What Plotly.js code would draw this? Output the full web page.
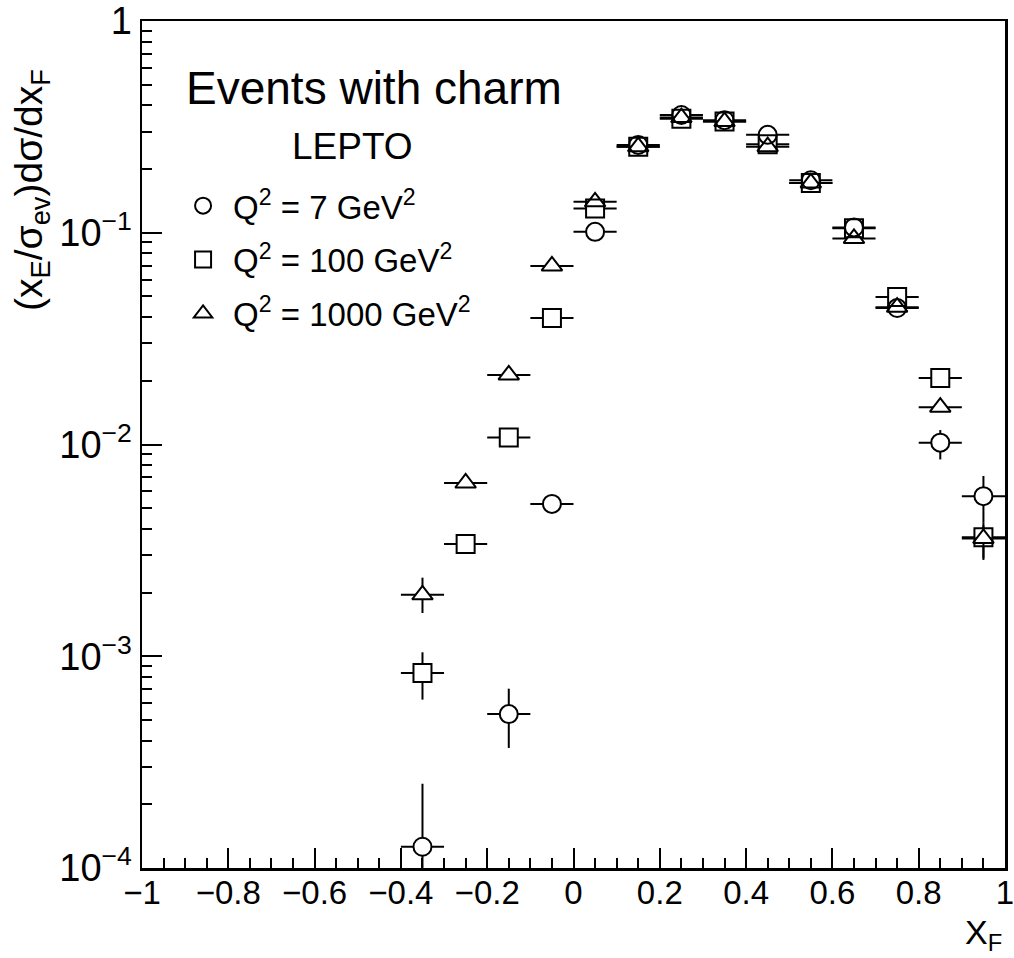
<!DOCTYPE html>
<html>
<head>
<meta charset="utf-8">
<script src="https://cdn.plot.ly/plotly-3.0.1.min.js"></script>
<style>html,body{margin:0;padding:0;background:#fff;}#chart{width:1014px;height:958px;}</style>
</head>
<body>
<div id="chart"></div>
<script>
// ---- data ----
const xQ7 = [-0.35, -0.15, -0.05, 0.05, 0.15, 0.25, 0.35, 0.45, 0.55, 0.65, 0.75, 0.85, 0.95];
const yQ7 = [1.26e-4, 5.33e-4, 5.24e-3, 0.101, 0.26, 0.36, 0.34, 0.29, 0.177, 0.106, 0.0441, 0.0102, 5.7e-3];
const errUpQ7 = [1.24e-4, 1.7e-4, 0, 0, 0, 0, 0, 0, 0, 0, 0, 0.0015, 1.4e-3];
const errDnQ7 = [1.2e-4, 1.64e-4, 0, 0, 0, 0, 0, 0, 0, 0, 0, 0.0017, 1.4e-3];

const xQ100 = [-0.35, -0.25, -0.15, -0.05, 0.05, 0.15, 0.25, 0.35, 0.45, 0.55, 0.65, 0.75, 0.85, 0.95];
const yQ100 = [8.34e-4, 3.39e-3, 0.0108, 0.0396, 0.130, 0.255, 0.345, 0.335, 0.262, 0.172, 0.105, 0.0497, 0.0206, 3.65e-3];
const errUpQ100 = [2.1e-4, 0, 0, 0, 0, 0, 0, 0, 0, 0, 0, 0, 0, 0.5e-3];
const errDnQ100 = [2.1e-4, 0, 0, 0, 0, 0, 0, 0, 0, 0, 0, 0, 0, 0.8e-3];

const xQ1000 = [-0.35, -0.25, -0.15, -0.05, 0.05, 0.15, 0.25, 0.35, 0.45, 0.55, 0.65, 0.75, 0.85, 0.95];
const yQ1000 = [1.95e-3, 6.58e-3, 0.0213, 0.0697, 0.140, 0.255, 0.35, 0.335, 0.255, 0.172, 0.094, 0.0445, 0.0150, 3.6e-3];
const errUpQ1000 = [0.4e-3, 0, 0, 0, 0, 0, 0, 0, 0, 0, 0, 0, 0, 0.7e-3];
const errDnQ1000 = [0.35e-3, 0, 0, 0, 0, 0, 0, 0, 0, 0, 0, 0, 0, 0.7e-3];

const binHalfWidth = 0.05;

const seriesNames = ['Q<sup>2</sup> = 7 GeV<sup>2</sup>', 'Q<sup>2</sup> = 100 GeV<sup>2</sup>', 'Q<sup>2</sup> = 1000 GeV<sup>2</sup>'];

const xTickVals = [-1, -0.8, -0.6, -0.4, -0.2, 0, 0.2, 0.4, 0.6, 0.8, 1];
const xTickText = ['\u22121', '\u22120.8', '\u22120.6', '\u22120.4', '\u22120.2', '0', '0.2', '0.4', '0.6', '0.8', '1'];
const yTickVals = [1e-4, 1e-3, 1e-2, 1e-1, 1];
const yTickText = ['10<sup>\u22124</sup>', '10<sup>\u22123</sup>', '10<sup>\u22122</sup>', '10<sup>\u22121</sup>', '1'];
const minorMultipliers = [2, 3, 4, 5, 6, 7, 8, 9];
const decades = [1e-4, 1e-3, 1e-2, 1e-1];

// ---- build ----
const yMinor = [];
decades.forEach(d => minorMultipliers.forEach(m => yMinor.push(d * m)));

const FONT = 'Liberation Sans, Arial, Helvetica, sans-serif';
const symbols = ['circle', 'square', 'triangle-up'];
const sets = [
  [xQ7, yQ7, errUpQ7, errDnQ7],
  [xQ100, yQ100, errUpQ100, errDnQ100],
  [xQ1000, yQ1000, errUpQ1000, errDnQ1000]
];

const traces = [];
sets.forEach((s, i) => {
  traces.push({
    x: s[0], y: s[1], type: 'scatter', mode: 'markers',
    showlegend: false, hoverinfo: 'skip',
    marker: {symbol: symbols[i], size: 18, color: 'white', line: {width: 0}},
    error_x: {type: 'constant', value: binHalfWidth, width: 0, thickness: 2, color: 'black'},
    error_y: {type: 'data', symmetric: false, array: s[2], arrayminus: s[3], width: 0, thickness: 2, color: 'black'}
  });
});
sets.forEach((s, i) => {
  traces.push({
    x: s[0], y: s[1], type: 'scatter', mode: 'markers',
    name: seriesNames[i], legendgroup: 'g' + i,
    marker: {symbol: symbols[i] + '-open', size: 18, color: 'black', line: {width: 2, color: 'black'}}
  });
});

const layout = {
  width: 1014, height: 958,
  margin: {l: 142, r: 9, t: 21, b: 90},
  paper_bgcolor: 'white', plot_bgcolor: 'white',
  font: {family: FONT, color: 'black', size: 30},
  showlegend: true,
  legend: {
    x: 0.036, y: 0.815, xanchor: 'left', yanchor: 'top',
    bgcolor: 'rgba(0,0,0,0)', borderwidth: 0,
    font: {family: FONT, size: 33, color: 'black'},
    traceorder: 'grouped', tracegroupgap: 8, itemwidth: 50
  },
  xaxis: {
    range: [-1, 1], showgrid: false, zeroline: false,
    showline: true, linewidth: 2.5, linecolor: 'black', mirror: true,
    ticks: 'inside', ticklen: 20, tickwidth: 2, tickcolor: 'black',
    tickmode: 'array', tickvals: xTickVals, ticktext: xTickText,
    ticklabeloverflow: 'allow', ticklabelstandoff: -6,
    tickfont: {family: FONT, size: 33, color: 'black'},
    minor: {ticks: 'inside', ticklen: 10, tickwidth: 2, tickcolor: 'black', dtick: 0.05, tick0: -1, showgrid: false}
  },
  yaxis: {
    type: 'log', range: [-4, 0], showgrid: false, zeroline: false,
    showline: true, linewidth: 2.5, linecolor: 'black', mirror: true,
    ticks: 'inside', ticklen: 20, tickwidth: 2, tickcolor: 'black',
    tickmode: 'array', tickvals: yTickVals, ticktext: yTickText,
    ticklabeloverflow: 'allow',
    tickfont: {family: FONT, size: 38, color: 'black'},
    minor: {ticks: 'inside', ticklen: 10, tickwidth: 2, tickcolor: 'black', tickmode: 'array', tickvals: yMinor, showgrid: false}
  },
  annotations: [
    {xref: 'paper', yref: 'paper', x: 0.269, y: 0.921, text: 'Events with charm', showarrow: false,
     font: {family: FONT, size: 46, color: 'black'}, xanchor: 'center', yanchor: 'middle'},
    {xref: 'paper', yref: 'paper', x: 0.244, y: 0.852, text: 'LEPTO', showarrow: false,
     font: {family: FONT, size: 37, color: 'black'}, xanchor: 'center', yanchor: 'middle'},
    {xref: 'paper', yref: 'paper', x: -0.128, y: 0.80, text: '(x<sub>E</sub>/\u03c3<sub>ev</sub>)d\u03c3/dx<sub>F</sub>',
     showarrow: false, textangle: -90, font: {family: FONT, size: 39, color: 'black'}, xanchor: 'center', yanchor: 'middle'},
    {xref: 'paper', yref: 'paper', x: 0.9746, y: -0.079, text: 'X<sub>F</sub>', showarrow: false,
     font: {family: FONT, size: 34, color: 'black'}, xanchor: 'center', yanchor: 'middle'}
  ]
};

Plotly.newPlot('chart', traces, layout, {displayModeBar: false, staticPlot: true});
</script>
</body>
</html>
